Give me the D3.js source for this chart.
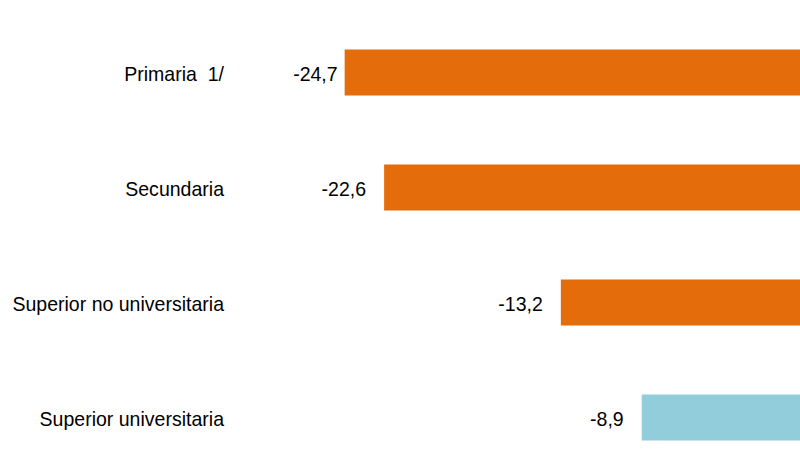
<!DOCTYPE html>
<html>
<head>
<meta charset="utf-8">
<script src="https://cdn.jsdelivr.net/npm/d3@7"></script>
<style>
  body { margin: 0; background: #fff; }
  svg { display: block; font-family: "Liberation Sans", Arial, sans-serif; }
</style>
</head>
<body>
<svg></svg>
<script>
let categories = ['Primaria  1/', 'Secundaria', 'Superior no universitaria', 'Superior universitaria']
let values = [-24.7, -22.6, -13.2, -8.9]
let colors = ['#e46c0a', '#e46c0a', '#e46c0a', '#92cddc']

let width = 800
let height = 469
let squeeze = 0.93   // source font is a bit narrower than Liberation Sans

let svg = d3.select('svg')
    .attr('width', width)
    .attr('height', height)

// zero sits just past the right edge, so bars get clipped there
let xScale = d3.scaleLinear()
    .domain([-25, 0])
    .range([339, 809])

let yScale = d3.scaleBand()
    .domain(categories)
    .range([15, 475])
    .paddingInner(0.6)
    .paddingOuter(0.3)

let fmt = (v) => d3.format('.1f')(v).replace('.', ',').replace('−', '-')

svg.selectAll('rect')
    .data(values)
    .enter()
    .append('rect')
    .attr('x', (d) => xScale(d))
    .attr('y', (d, i) => yScale(categories[i]))
    .attr('width', (d) => xScale(0) - xScale(d))
    .attr('height', yScale.bandwidth())
    .attr('fill', (d, i) => colors[i])

let labels = svg.append('g')
    .attr('transform', 'scale(' + squeeze + ',1)')

// value labels left of each bar
labels.selectAll('.val')
    .data(values)
    .enter()
    .append('text')
    .attr('class', 'val')
    .attr('x', (d, i) => (xScale(d) - (i === 0 ? 7 : 18)) / squeeze)
    .attr('y', (d, i) => yScale(categories[i]) + yScale.bandwidth() / 2 + 9)
    .attr('text-anchor', 'end')
    .attr('font-size', '21px')
    .attr('fill', '#000')
    .text((d) => fmt(d))

// category labels
labels.selectAll('.cat')
    .data(categories)
    .enter()
    .append('text')
    .attr('class', 'cat')
    .attr('x', 224 / squeeze)
    .attr('y', (d) => yScale(d) + yScale.bandwidth() / 2 + 9)
    .attr('text-anchor', 'end')
    .attr('font-size', '21px')
    .attr('fill', '#000')
    .style('white-space', 'pre')
    .text((d) => d)
</script>
</body>
</html>
